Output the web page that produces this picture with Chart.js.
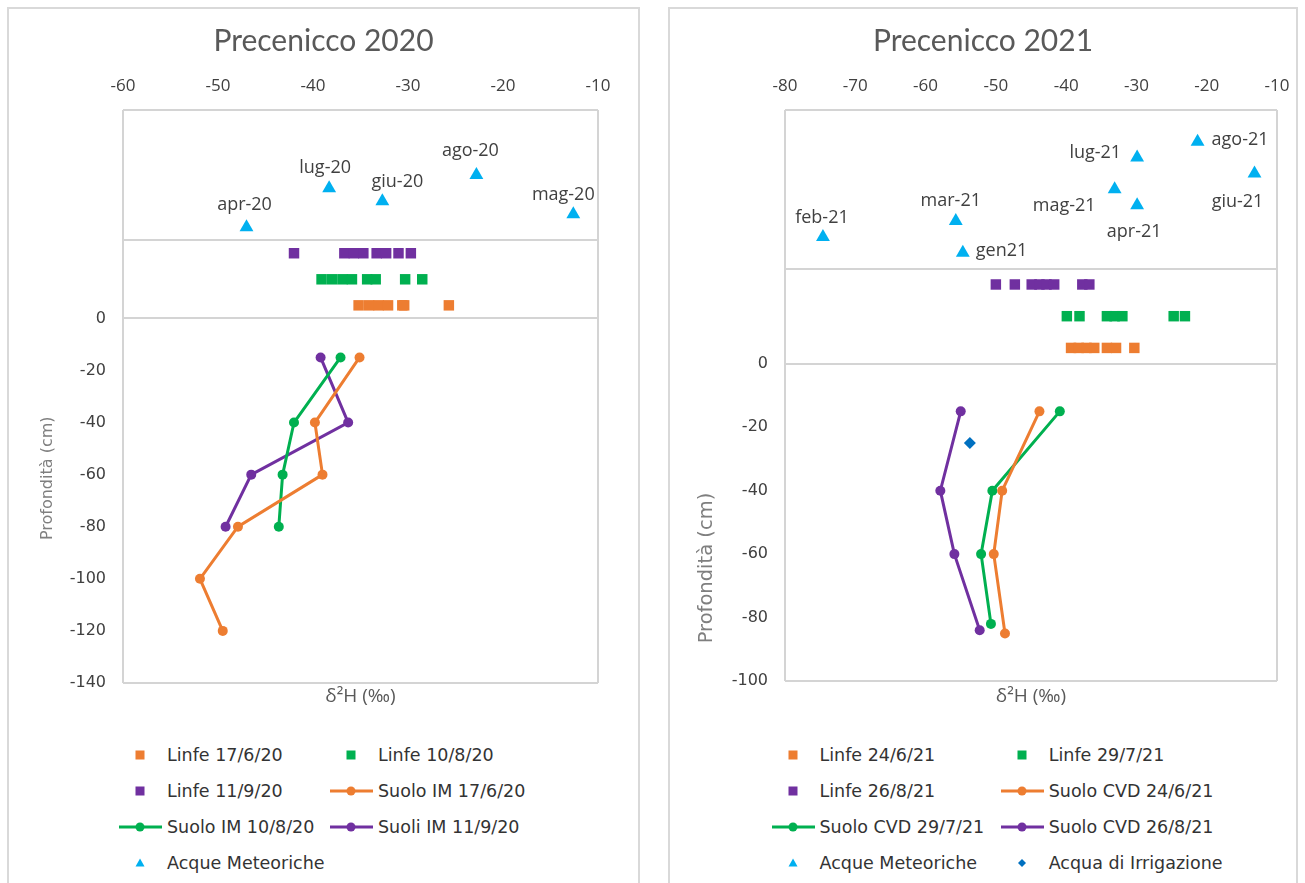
<!DOCTYPE html>
<html>
<head>
<meta charset="utf-8">
<title>Precenicco 2020 / 2021</title>
<script src="https://cdn.jsdelivr.net/npm/chart.js@4.4.1/dist/chart.umd.min.js"></script>
<style>
  body { margin: 0; background: #fff; width: 1305px; height: 883px; overflow: hidden; position: relative; font-family: "DejaVu Sans", sans-serif; }
  .panel { position: absolute; top: 7px; height: 900px; border: 2px solid #d9d9d9; box-sizing: border-box; }
  #p1 { left: 7px; width: 633px; }
  #p2 { left: 668px; width: 630px; }
  .panel canvas { position: absolute; left: 0; top: 0; }
  .item { position: absolute; display: flex; align-items: center; height: 24px; font-size: 17.5px; color: #333; white-space: nowrap; }
  .item svg { flex: none; }
  .item span { margin-left: 5px; }
</style>
</head>
<body>
<div class="panel" id="p1"><canvas id="chart2020" width="629" height="720"></canvas><div id="legend2020"></div></div>
<div class="panel" id="p2"><canvas id="chart2021" width="626" height="720"></canvas><div id="legend2021"></div></div>
<script>
// ---- Precenicco 2020 ----
// Linfe: d2H values, drawn as square markers on a row above the soil profile
const linfe_17_6_20 = [-35.2, -34.1, -33.1, -32.1, -30.6, -30.4, -25.7];
const linfe_10_8_20 = [-39.1, -38.0, -36.9, -35.9, -34.3, -33.4, -30.3, -28.5];
const linfe_11_9_20 = [-42.0, -36.7, -35.7, -34.7, -33.3, -32.3, -31.0, -29.7];
const linfeRows2020 = [5, 15, 25];
// Soil profiles (depth in cm, d2H)
const depth_17_6_20 = [-15, -40, -60, -80, -100, -120];
const suolo_17_6_20 = [-35.1, -39.8, -39.0, -47.9, -51.9, -49.5];
const depth_10_8_20 = [-15, -40, -60, -80];
const suolo_10_8_20 = [-37.1, -42.0, -43.2, -43.6];
const depth_11_9_20 = [-15, -40, -60, -80];
const suolo_11_9_20 = [-39.2, -36.3, -46.5, -49.2];
// Rain water samples
const meteo2020Labels = ['apr-20', 'mag-20', 'giu-20', 'lug-20', 'ago-20'];
const meteo2020X = [-47.0, -12.6, -32.7, -38.3, -22.8];
const meteo2020Y = [35, 40, 45, 50, 55];

// ---- Precenicco 2021 ----
const linfe_24_6_21 = [-39.3, -38.2, -37.1, -36.0, -34.2, -32.9, -30.3];
const linfe_29_7_21 = [-39.9, -38.1, -34.2, -33.1, -32.0, -24.7, -23.1];
const linfe_26_8_21 = [-50.0, -47.3, -44.9, -43.8, -42.8, -41.7, -37.7, -36.7];
const linfeRows2021 = [5, 15, 25];
const depth_24_6_21 = [-15, -40, -60, -85];
const suolo_24_6_21 = [-43.8, -49.1, -50.3, -48.7];
const depth_29_7_21 = [-15, -40, -60, -82];
const suolo_29_7_21 = [-40.9, -50.5, -52.1, -50.7];
const depth_26_8_21 = [-15, -40, -60, -84];
const suolo_26_8_21 = [-55.0, -57.9, -55.9, -52.3];
const meteo2021Labels = ['gen21', 'feb-21', 'mar-21', 'apr-21', 'mag-21', 'giu-21', 'lug-21', 'ago-21'];
const meteo2021X = [-54.7, -74.6, -55.7, -29.9, -33.1, -13.2, -29.9, -21.3];
const meteo2021Y = [35, 40, 45, 50, 55, 60, 65, 70];
const irrigX = [-53.7];
const irrigY = [-25];

const ORANGE = '#ED7D31', GREEN = '#00B050', PURPLE = '#7030A0', RAIN = '#00B0F0', IRRIG = '#0070C0';
const GRID = '#d4d4d4';

function pts(xs, ys) {
    return xs.map((x, i) => ({ x: x, y: Array.isArray(ys) ? ys[i] : ys }));
}
function linfe(label, xs, y, color) {
    return { label, data: pts(xs, y), pointStyle: 'rect', pointRadius: 7.4, backgroundColor: color, pointBorderWidth: 0 };
}
function suolo(label, xs, ys, color) {
    return { label, data: pts(xs, ys), showLine: true, borderColor: color, backgroundColor: color,
             borderWidth: 3, pointRadius: 5, pointStyle: 'circle', pointBorderWidth: 0 };
}
function marker(label, xs, ys, style, radius, color) {
    return { label, data: pts(xs, ys), pointStyle: style, pointRadius: radius, backgroundColor: color, pointBorderWidth: 0 };
}

// Rotated y title, placed at a value of the y scale
const yTitlePlugin = {
    id: 'yTitle',
    afterDraw(chart, args, opts) {
        const ctx = chart.ctx;
        const y = chart.scales.y.getPixelForValue(opts.at);
        ctx.save();
        ctx.translate(opts.x, y);
        ctx.rotate(-Math.PI / 2);
        ctx.font = opts.font;
        ctx.fillStyle = opts.color;
        ctx.textAlign = 'center';
        ctx.textBaseline = 'middle';
        ctx.fillText(opts.text, 0, 0);
        ctx.restore();
    }
};

// Month labels next to the rain triangles
const rainLabelPlugin = {
    id: 'rainLabels',
    afterDatasetsDraw(chart, args, opts) {
        const ctx = chart.ctx;
        const meta = chart.getDatasetMeta(opts.dataset);
        ctx.save();
        ctx.font = '18px "Open Sans"';
        ctx.fillStyle = '#404040';
        ctx.textBaseline = 'middle';
        meta.data.forEach((pt, i) => {
            const p = opts.place[i];
            ctx.textAlign = p.align;
            ctx.fillText(opts.labels[i], pt.x + p.dx, pt.y + p.dy);
        });
        ctx.restore();
    }
};

function makeChart(id, cfg) {
    const ymarks = [cfg.ymin, 0, 30, cfg.ymax];
    return new Chart(document.getElementById(id), {
        type: 'scatter',
        data: { datasets: cfg.datasets },
        plugins: [yTitlePlugin, rainLabelPlugin],
        options: {
            responsive: false,
            animation: false,
            layout: { padding: 0 },
            plugins: {
                legend: { display: false },
                tooltip: { enabled: false },
                title: {
                    display: true, text: cfg.title, color: '#595959',
                    font: { family: 'Lato', size: 30, weight: 'normal' },
                    padding: { top: 14, bottom: 0 }
                },
                yTitle: cfg.yTitle,
                rainLabels: cfg.rainLabels
            },
            scales: {
                x: {
                    type: 'linear', position: 'top', min: cfg.xmin, max: cfg.xmax,
                    ticks: { stepSize: 10, padding: 14, color: '#404040', font: { family: 'Open Sans', size: 17 } },
                    grid: { drawTicks: false, lineWidth: 2,
                            color: c => (c.tick && (c.tick.value === cfg.xmin || c.tick.value === cfg.xmax)) ? GRID : 'transparent' },
                    border: { display: false },
                    afterFit: s => { s.height = 51; s.paddingLeft = 0; s.paddingRight = 0; }
                },
                xb: {
                    type: 'linear', position: 'bottom', min: cfg.xmin, max: cfg.xmax,
                    ticks: { display: false }, grid: { display: false }, border: { display: false },
                    title: { display: true, text: 'δ²H (‰)', color: '#595959',
                             font: { family: 'Open Sans', size: 19 }, padding: { top: 0, bottom: 21 } },
                    afterFit: s => { s.height = cfg.bottomH; s.paddingLeft = 0; s.paddingRight = 0; }
                },
                y: {
                    type: 'linear', min: cfg.ymin, max: cfg.ymax,
                    afterBuildTicks: s => { s.ticks.push({ value: 30 }); s.ticks.sort((a, b) => a.value - b.value); },
                    ticks: { stepSize: 20, padding: 17, color: '#404040', font: { family: 'DejaVu Sans', size: 16 },
                             callback: v => v > 0 ? '' : v },
                    grid: { drawTicks: false, lineWidth: 2,
                            color: c => (c.tick && ymarks.includes(c.tick.value)) ? GRID : 'transparent' },
                    border: { display: false },
                    afterFit: s => { s.width = cfg.yWidth; s.paddingTop = 0; s.paddingBottom = 0; }
                },
                // empty right axis, only reserves space so the title stays centred on the panel
                yr: {
                    type: 'linear', position: 'right', min: cfg.ymin, max: cfg.ymax,
                    ticks: { display: false }, grid: { display: false }, border: { display: false },
                    afterFit: s => { s.width = cfg.padRight; s.paddingTop = 0; s.paddingBottom = 0; }
                }
            }
        }
    });
}

function symbolSvg(ds) {
    const c = ds.backgroundColor;
    let inner;
    if (ds.showLine) {
        inner = '<line x1="1" y1="12" x2="44" y2="12" stroke="' + c + '" stroke-width="3"/>' +
                '<circle cx="22" cy="12" r="4.5" fill="' + c + '"/>';
    } else if (ds.pointStyle === 'triangle') {
        inner = '<polygon points="22,7.5 26.5,15.5 17.5,15.5" fill="' + c + '"/>';
    } else if (ds.pointStyle === 'rectRot') {
        inner = '<polygon points="22,8 26,12 22,16 18,12" fill="' + c + '"/>';
    } else {
        inner = '<rect x="17.5" y="7.5" width="9" height="9" fill="' + c + '"/>';
    }
    return '<svg width="44" height="24" viewBox="0 0 44 24">' + inner + '</svg>';
}

function buildLegend(chart, elId, cols) {
    const el = document.getElementById(elId);
    chart.data.datasets.forEach((ds, i) => {
        const item = document.createElement('div');
        item.className = 'item';
        item.style.left = cols[i % 2] + 'px';
        item.style.top = (734 + Math.floor(i / 2) * 36) + 'px';
        item.innerHTML = symbolSvg(ds) + '<span>' + ds.label + '</span>';
        el.appendChild(item);
    });
}

const chart2020 = makeChart('chart2020', {
    title: 'Precenicco 2020', xmin: -60, xmax: -10, ymin: -140, ymax: 80,
    padRight: 40, yWidth: 114, bottomH: 46,
    datasets: [
        linfe('Linfe 17/6/20', linfe_17_6_20, linfeRows2020[0], ORANGE),
        linfe('Linfe 10/8/20', linfe_10_8_20, linfeRows2020[1], GREEN),
        linfe('Linfe 11/9/20', linfe_11_9_20, linfeRows2020[2], PURPLE),
        suolo('Suolo IM 17/6/20', suolo_17_6_20, depth_17_6_20, ORANGE),
        suolo('Suolo IM 10/8/20', suolo_10_8_20, depth_10_8_20, GREEN),
        suolo('Suoli IM 11/9/20', suolo_11_9_20, depth_11_9_20, PURPLE),
        marker('Acque Meteoriche', meteo2020X, meteo2020Y, 'triangle', 8, RAIN)
    ],
    yTitle: { text: 'Profondità (cm)', x: 38.5, at: -61.4, font: '16px "DejaVu Sans"', color: '#7f7f7f' },
    rainLabels: {
        dataset: 6, labels: meteo2020Labels,
        place: [
            { align: 'center', dx: -2, dy: -22 },
            { align: 'center', dx: -10, dy: -19 },
            { align: 'center', dx: 15, dy: -19 },
            { align: 'center', dx: -4, dy: -20 },
            { align: 'center', dx: -6, dy: -24 }
        ]
    }
});

const chart2021 = makeChart('chart2021', {
    title: 'Precenicco 2021', xmin: -80, xmax: -10, ymin: -100, ymax: 80,
    padRight: 19, yWidth: 115, bottomH: 48,
    datasets: [
        linfe('Linfe 24/6/21', linfe_24_6_21, linfeRows2021[0], ORANGE),
        linfe('Linfe 29/7/21', linfe_29_7_21, linfeRows2021[1], GREEN),
        linfe('Linfe 26/8/21', linfe_26_8_21, linfeRows2021[2], PURPLE),
        suolo('Suolo CVD 24/6/21', suolo_24_6_21, depth_24_6_21, ORANGE),
        suolo('Suolo CVD 29/7/21', suolo_29_7_21, depth_29_7_21, GREEN),
        suolo('Suolo CVD 26/8/21', suolo_26_8_21, depth_26_8_21, PURPLE),
        marker('Acque Meteoriche', meteo2021X, meteo2021Y, 'triangle', 8, RAIN),
        marker('Acqua di Irrigazione', irrigX, irrigY, 'rectRot', 6, IRRIG)
    ],
    yTitle: { text: 'Profondità (cm)', x: 36.5, at: -64.4, font: '19.5px "DejaVu Sans"', color: '#7f7f7f' },
    rainLabels: {
        dataset: 6, labels: meteo2021Labels,
        place: [
            { align: 'left', dx: 13, dy: -2 },
            { align: 'center', dx: -1, dy: -19 },
            { align: 'center', dx: -5, dy: -20 },
            { align: 'center', dx: -3, dy: 27 },
            { align: 'right', dx: -19, dy: 17 },
            { align: 'center', dx: -17, dy: 28 },
            { align: 'right', dx: -16, dy: -5 },
            { align: 'left', dx: 14, dy: -2 }
        ]
    }
});

buildLegend(chart2020, 'legend2020', [109, 320]);
buildLegend(chart2021, 'legend2021', [100.5, 329.7]);
</script>
</body>
</html>
